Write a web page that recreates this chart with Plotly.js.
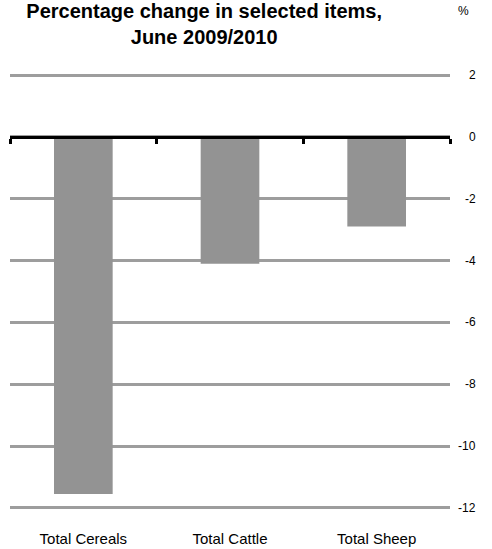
<!DOCTYPE html>
<html><head><meta charset="utf-8">
<script src="https://cdn.plot.ly/plotly-3.0.1.min.js"></script>
<style>html,body{margin:0;padding:0;background:#fff}#c{width:492px;height:549px}</style>
</head><body><div id="c"></div>
<script>
var categories = ["Total Cereals", "Total Cattle", "Total Sheep"];
var values = [-11.55, -4.1, -2.9];
var yTicks = [2, 0, -2, -4, -6, -8, -10, -12];
var yTickLabels = ["2", "0", "-2", "-4", "-6", "-8", "-10", "-12"];
var boundaryTicks = [-0.5, 0.5, 1.5, 2.5];

var FONT = "Liberation Sans, Arial, Helvetica, sans-serif";
var traces = [
  {type: "bar", x: categories, y: values, marker: {color: "#939393"}, hoverinfo: "none"},
  {type: "scatter", x: [0], y: [0], xaxis: "x2", yaxis: "y", mode: "markers", marker: {opacity: 0}, hoverinfo: "none", showlegend: false}
];
var annotations = yTicks.map(function (v, i) {
  return {xref: "paper", yref: "y", x: 1.063, y: v, xanchor: "right", yanchor: "middle",
    text: yTickLabels[i], showarrow: false, font: {family: FONT, size: 12, color: "#000"}};
});
annotations.push({xref: "paper", yref: "paper", x: 1.048, y: 1.138, xanchor: "right", yanchor: "middle",
  text: "%", showarrow: false, font: {family: FONT, size: 12, color: "#000"}});
var layout = {
  width: 492, height: 549,
  margin: {l: 10, r: 42, t: 72, b: 38},
  paper_bgcolor: "#fff", plot_bgcolor: "#fff",
  showlegend: false,
  bargap: 0.6,
  title: {text: "<b>Percentage change in selected items,<br>June 2009/2010</b>", x: 0.415, xref: "container", xanchor: "center",
    y: 0.968, yanchor: "middle", font: {family: FONT, size: 20, color: "#000"}},
  xaxis: {type: "category", range: [-0.5, 2.5], showline: false, showgrid: false, zeroline: false, ticks: "",
    ticklabelstandoff: 17, tickfont: {family: FONT, size: 15, color: "#000"}, fixedrange: true},
  xaxis2: {overlaying: "x", anchor: "free", position: 12.1 / 14.2, range: [-0.5, 2.5], showline: true, linecolor: "#000", linewidth: 3,
    tickmode: "array", tickvals: boundaryTicks, ticks: "outside", ticklen: 5, tickwidth: 3, tickcolor: "#000",
    showticklabels: false, showgrid: false, zeroline: false},
  yaxis: {range: [-12.1, 2.1], tickmode: "array", tickvals: yTicks, showticklabels: false, showgrid: true,
    gridcolor: "#9d9d9d", gridwidth: 3, zeroline: false, ticks: "", showline: false},
  annotations: annotations
};
Plotly.newPlot("c", traces, layout, {staticPlot: true, displayModeBar: false});
</script></body></html>
